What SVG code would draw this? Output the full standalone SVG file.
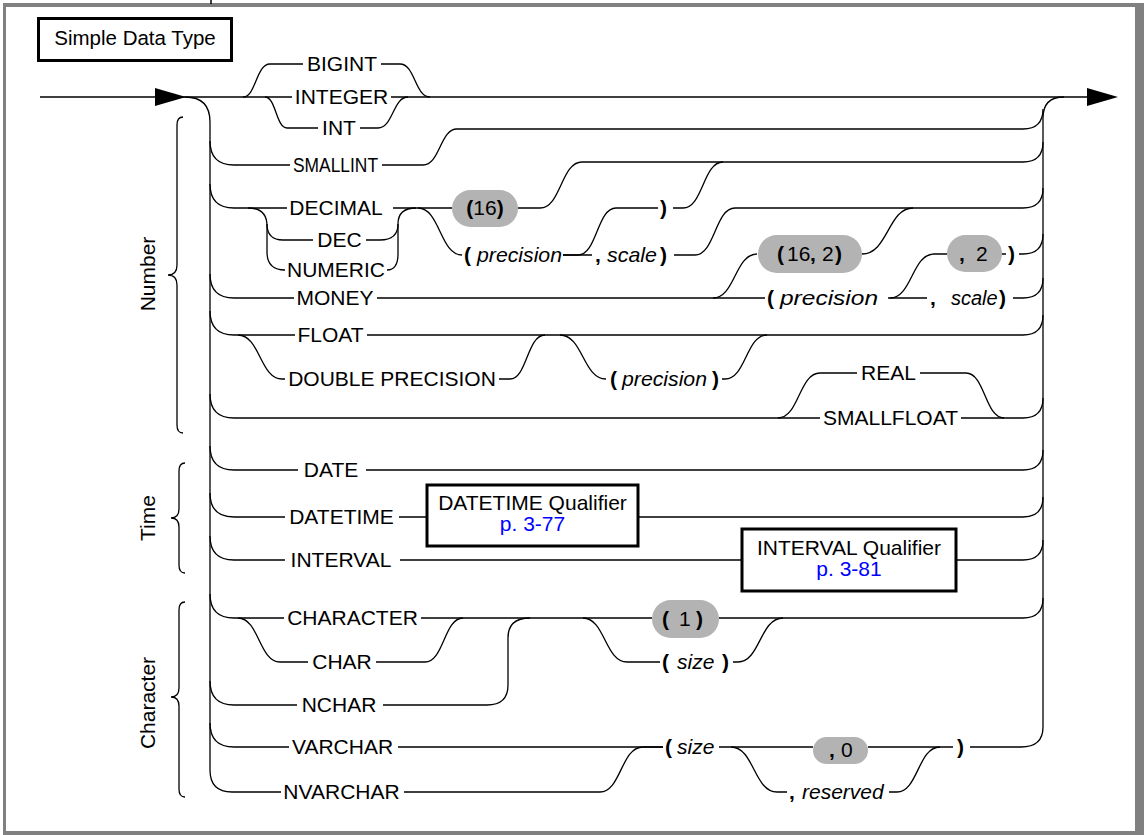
<svg xmlns="http://www.w3.org/2000/svg" width="1144" height="835" viewBox="0 0 1144 835">
<style>
.ln{fill:none;stroke:#000;stroke-width:1.3}
.t{font-family:"Liberation Sans",Arial,Helvetica,sans-serif;font-size:21px;fill:#000}
.m{text-anchor:middle}
.it{font-style:italic}
.b{font-weight:bold}
.pill{fill:#b3b3b3}
.box{fill:#fff;stroke:#000;stroke-width:3}
.ref{fill:#0000ff}
.arw{fill:#000}
</style>
<rect x="3" y="3" width="1141" height="832" fill="#808080"/>
<rect x="6" y="7" width="1129" height="824" fill="#fff"/>
<line x1="211" y1="0" x2="211" y2="4" stroke="#000" stroke-width="1.5"/>

<g id="title">
<rect class="box" x="38.5" y="18.5" width="193" height="42"/>
<text class="t m" x="135" y="45" style="font-size:20.5px">Simple Data Type</text>
</g>

<g id="connectors">
<path class="ln" d="M40 97 H292 M391 97 H1087"/>
<path class="ln" d="M185 97 Q210 97 210 122 V770 Q210 792 232 792 H281 M404 792 H600 C621 792 621 747 643 747 H663 M719 747 H813 M868 747 H953 M970 747 H1021 Q1043 747 1043 727 V118 Q1043 97 1064 97"/>
<path class="ln" d="M243 97 C256 97 256 64 270 64 H303 M381 64 H400 C415 64 415 97 430 97"/>
<path class="ln" d="M265 97 C276 97 276 128 287 128 H318 M360 128 H378 C393 128 393 97 408 97"/>
<path class="ln" d="M210 141 Q210 165 234 165 H290 M382 165 H423 C440 165 440 129 457 129 H1023 Q1043 129 1043 109"/>
<path class="ln" d="M210 184 Q210 208 234 208 H287 M393 208 H452"/>
<path class="ln" d="M248 208 Q267 208 267 226 V252 Q267 270 285 270"/>
<path class="ln" d="M267 224 Q267 240 283 240 H313 M366 240 H380 Q398 240 398 224"/>
<path class="ln" d="M387 270 Q398 270 398 254 V224 Q398 208 416 208"/>
<path class="ln" d="M418 208 C440 208 440 255 462 255"/>
<path class="ln" d="M518 208 H540 C561 208 561 162 582 162 H1023 Q1043 162 1043 142"/>
<path class="ln" d="M563 255 H578 C597 255 597 208 616 208 H658 M673 208 H683 C703 208 703 162 723 162"/>
<path class="ln" d="M563 255 H592 M674 255 H695 C715 255 715 208 735 208 H1023 Q1043 208 1043 188"/>
<path class="ln" d="M210 274 Q210 298 234 298 H294 M377 298 H765"/>
<path class="ln" d="M713 298 C735 298 735 254 757 254"/>
<path class="ln" d="M862 254 C888 254 888 208 913 208"/>
<path class="ln" d="M888 298 H927 M1013 298 H1023 Q1043 298 1043 278"/>
<path class="ln" d="M890 298 C912 298 912 254 934 254 H947 M1002 254 H1006 M1019 254 H1023 Q1043 254 1043 234"/>
<path class="ln" d="M210 311 Q210 335 234 335 H295 M367 335 H1023 Q1043 335 1043 315"/>
<path class="ln" d="M238 335 C260 335 260 379 282 379 H285 M499 379 H510 C527 379 527 335 545 335"/>
<path class="ln" d="M560 335 C583 335 583 379 606 379 M722 379 H725 C746 379 746 335 767 335"/>
<path class="ln" d="M210 394 Q210 418 234 418 H820 M961 418 H1023 Q1043 418 1043 398"/>
<path class="ln" d="M778 418 C799 418 799 373 820 373 H857 M920 373 H966 C985 373 985 418 1004 418"/>
<path class="ln" d="M210 446 Q210 470 234 470 H298 M366 470 H1023 Q1043 470 1043 450"/>
<path class="ln" d="M210 493 Q210 517 234 517 H285 M399 517 H427 M638 517 H1023 Q1043 517 1043 497"/>
<path class="ln" d="M210 536 Q210 560 234 560 H285 M400 560 H742 M956 560 H1023 Q1043 560 1043 540"/>
<path class="ln" d="M210 594 Q210 618 234 618 H284 M421 618 H652 M719 618 H1023 Q1043 618 1043 598"/>
<path class="ln" d="M238 618 C259 618 259 662 280 662 H308 M376 662 H425 C444 662 444 618 463 618"/>
<path class="ln" d="M210 681 Q210 705 234 705 H297 M383 705 H487 Q508 705 508 685 V638 Q508 618 530 618"/>
<path class="ln" d="M583 618 C605 618 605 662 627 662 H660 M733 662 H738 C760 662 760 618 783 618"/>
<path class="ln" d="M210 723 Q210 747 234 747 H289 M398 747 H663"/>
<path class="ln" d="M731 747 C754 747 754 792 777 792 H787 M889 792 H897 C918 792 918 747 940 747"/>
<polygon class="arw" points="155,88 155,106 186,97"/>
<polygon class="arw" points="1087,88 1087,106 1118,97"/>
</g>

<g id="brace-number">
<path class="ln" d="M183 117 Q177 117 177 125 V265 Q177 275 168 275 Q177 275 177 285 V425 Q177 433 183 433"/>
<text class="t m" transform="translate(155,274) rotate(-90)">Number</text>
</g>
<g id="brace-time">
<path class="ln" d="M185 463 Q179 463 179 471 V509 Q179 518 171 518 Q179 518 179 527 V565 Q179 573 185 573"/>
<text class="t m" transform="translate(155,518) rotate(-90)">Time</text>
</g>
<g id="brace-character">
<path class="ln" d="M185 602 Q179 602 179 610 V688 Q179 697 171 697 Q179 697 179 706 V789 Q179 797 185 797"/>
<text class="t m" transform="translate(155,703) rotate(-90)">Character</text>
</g>

<g id="n-bigint"><text class="t m" x="342" y="71">BIGINT</text></g>
<g id="n-integer"><text class="t m" x="341.5" y="104">INTEGER</text></g>
<g id="n-int"><text class="t m" x="339" y="135">INT</text></g>
<g id="n-smallint"><text class="t m" x="335.5" y="172" textLength="85" lengthAdjust="spacingAndGlyphs">SMALLINT</text></g>
<g id="n-decimal"><text class="t m" x="336" y="215">DECIMAL</text></g>
<g id="n-dec"><text class="t m" x="339.5" y="247">DEC</text></g>
<g id="n-numeric"><text class="t m" x="336" y="277">NUMERIC</text></g>
<g id="n-16">
<rect class="pill" x="452" y="190" width="66" height="37" rx="18.5"/>
<text class="t m" x="485" y="215"><tspan class="b">(</tspan>16<tspan class="b">)</tspan></text>
</g>
<g id="n-dec-precision"><text class="t" y="262"><tspan class="b" x="464">(</tspan><tspan class="it" x="477" textLength="85" lengthAdjust="spacingAndGlyphs">precision</tspan></text></g>
<g id="n-dec-close"><text class="t b" x="660" y="215">)</text></g>
<g id="n-dec-scale"><text class="t" y="262"><tspan class="b" x="595">,</tspan><tspan class="it" x="607" textLength="50" lengthAdjust="spacingAndGlyphs">scale</tspan><tspan class="b" x="660">)</tspan></text></g>
<g id="n-money"><text class="t m" x="335" y="305">MONEY</text></g>
<g id="n-16-2">
<rect class="pill" x="758" y="235" width="104" height="38" rx="19"/>
<text class="t" y="261"><tspan class="b" x="777">(</tspan><tspan x="787">16</tspan><tspan class="b" x="810">,</tspan><tspan x="822">2</tspan><tspan class="b" x="835">)</tspan></text>
</g>
<g id="n-money-precision"><text class="t" y="305"><tspan class="b" x="767">(</tspan><tspan class="it" x="780" textLength="98" lengthAdjust="spacingAndGlyphs">precision</tspan></text></g>
<g id="n-2">
<rect class="pill" x="947" y="235" width="55" height="37" rx="18.5"/>
<text class="t" y="261"><tspan class="b" x="959">,</tspan><tspan x="976">2</tspan></text>
</g>
<g id="n-money-close"><text class="t b" x="1008" y="261">)</text></g>
<g id="n-money-scale"><text class="t" y="305"><tspan class="b" x="930">,</tspan><tspan class="it" x="951" style="font-size:20px">scale</tspan><tspan class="b" x="999">)</tspan></text></g>
<g id="n-float"><text class="t m" x="330.5" y="342">FLOAT</text></g>
<g id="n-double"><text class="t m" x="392" y="386">DOUBLE PRECISION</text></g>
<g id="n-float-precision"><text class="t" y="386"><tspan class="b" x="610">(</tspan><tspan class="it" x="622" textLength="85" lengthAdjust="spacingAndGlyphs">precision</tspan><tspan class="b" x="712">)</tspan></text></g>
<g id="n-real"><text class="t m" x="888.5" y="380">REAL</text></g>
<g id="n-smallfloat"><text class="t m" x="890.5" y="425">SMALLFLOAT</text></g>
<g id="n-date"><text class="t m" x="331" y="477">DATE</text></g>
<g id="n-datetime"><text class="t m" x="341.5" y="524">DATETIME</text></g>
<g id="n-datetime-qualifier">
<rect class="box" x="427" y="485" width="211" height="61"/>
<text class="t m" x="532.5" y="510">DATETIME Qualifier</text>
<text class="t m ref" x="532.5" y="531">p. 3-77</text>
</g>
<g id="n-interval"><text class="t m" x="341" y="567">INTERVAL</text></g>
<g id="n-interval-qualifier">
<rect class="box" x="742" y="529" width="214" height="62"/>
<text class="t m" x="849" y="555">INTERVAL Qualifier</text>
<text class="t m ref" x="849" y="576">p. 3-81</text>
</g>
<g id="n-character"><text class="t m" x="352.5" y="625">CHARACTER</text></g>
<g id="n-char"><text class="t m" x="342" y="669">CHAR</text></g>
<g id="n-nchar"><text class="t m" x="339" y="712">NCHAR</text></g>
<g id="n-1">
<rect class="pill" x="652" y="600" width="67" height="38" rx="19"/>
<text class="t" y="626"><tspan class="b" x="662">(</tspan><tspan x="679">1</tspan><tspan class="b" x="696">)</tspan></text>
</g>
<g id="n-char-size"><text class="t" y="669"><tspan class="b" x="662">(</tspan><tspan class="it" x="677">size</tspan><tspan class="b" x="722">)</tspan></text></g>
<g id="n-varchar"><text class="t m" x="342.5" y="754">VARCHAR</text></g>
<g id="n-nvarchar"><text class="t m" x="341.5" y="799">NVARCHAR</text></g>
<g id="n-varchar-size"><text class="t" y="754"><tspan class="b" x="665">(</tspan><tspan class="it" x="677">size</tspan></text></g>
<g id="n-0">
<rect class="pill" x="813" y="737" width="55" height="27" rx="13.5"/>
<text class="t" y="757"><tspan class="b" x="829">,</tspan><tspan x="841">0</tspan></text>
</g>
<g id="n-reserved"><text class="t" y="799"><tspan class="b" x="789">,</tspan><tspan class="it" x="802">reserved</tspan></text></g>
<g id="n-varchar-close"><text class="t b" x="957" y="754">)</text></g>
</svg>
